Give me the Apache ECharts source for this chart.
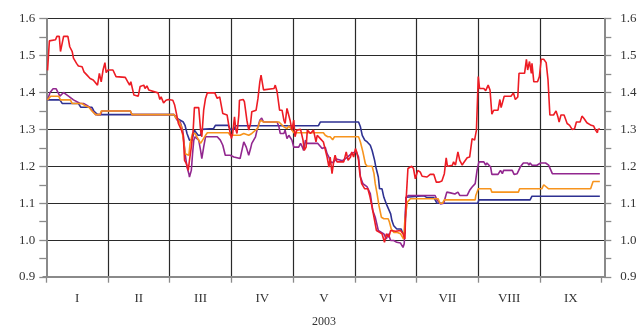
<!DOCTYPE html>
<html><head><meta charset="utf-8">
<script src="https://cdn.jsdelivr.net/npm/echarts@6/dist/echarts.min.js"></script>
<style>html,body{margin:0;padding:0;background:#fff}#c{width:638px;height:325px}</style>
</head><body><div id="c"></div>
<script>
const months = ['I','II','III','IV','V','VI','VII','VIII','IX'];
const yearLabel = '2003';
// [month position (0 = start of I), value]
const red = [[0.02,1.46],[0.05,1.54],[0.15,1.543],[0.17,1.552],[0.21,1.552],[0.23,1.511],[0.26,1.511],[0.28,1.552],[0.35,1.552],[0.38,1.524],[0.42,1.511],[0.44,1.493],[0.49,1.479],[0.52,1.472],[0.58,1.470],[0.61,1.456],[0.63,1.461],[0.66,1.447],[0.69,1.452],[0.71,1.438],[0.76,1.434],[0.79,1.429],[0.83,1.42],[0.86,1.452],[0.89,1.429],[0.92,1.461],[0.95,1.481],[0.97,1.454],[1.0,1.461],[1.08,1.461],[1.13,1.443],[1.28,1.441],[1.32,1.429],[1.35,1.42],[1.37,1.429],[1.42,1.393],[1.49,1.39],[1.52,1.416],[1.54,1.418],[1.58,1.420],[1.60,1.411],[1.63,1.418],[1.66,1.407],[1.69,1.402],[1.81,1.399],[1.84,1.381],[1.86,1.388],[1.90,1.372],[1.94,1.379],[1.98,1.381],[2.05,1.379],[2.08,1.366],[2.12,1.334],[2.14,1.316],[2.19,1.298],[2.22,1.284],[2.24,1.216],[2.27,1.207],[2.30,1.189],[2.32,1.216],[2.35,1.252],[2.38,1.298],[2.40,1.359],[2.47,1.359],[2.50,1.298],[2.52,1.280],[2.55,1.352],[2.58,1.384],[2.61,1.399],[2.73,1.399],[2.77,1.384],[2.81,1.388],[2.86,1.343],[2.93,1.339],[2.97,1.298],[3.00,1.275],[3.02,1.289],[3.05,1.334],[3.07,1.300],[3.09,1.289],[3.12,1.339],[3.13,1.379],[3.19,1.381],[3.21,1.375],[3.25,1.325],[3.28,1.298],[3.31,1.316],[3.33,1.348],[3.35,1.352],[3.40,1.352],[3.43,1.384],[3.46,1.429],[3.48,1.447],[3.49,1.452],[3.52,1.407],[3.55,1.408],[3.69,1.411],[3.71,1.420],[3.74,1.402],[3.78,1.352],[3.82,1.352],[3.85,1.325],[3.87,1.316],[3.90,1.357],[3.93,1.359],[3.95,1.325],[3.98,1.298],[4.01,1.325],[4.03,1.280],[4.06,1.298],[4.12,1.300],[4.16,1.271],[4.18,1.243],[4.21,1.252],[4.23,1.298],[4.28,1.289],[4.30,1.284],[4.33,1.298],[4.37,1.266],[4.39,1.284],[4.44,1.275],[4.47,1.280],[4.49,1.266],[4.52,1.271],[4.55,1.225],[4.58,1.198],[4.60,1.225],[4.63,1.180],[4.66,1.216],[4.68,1.230],[4.71,1.212],[4.82,1.212],[4.86,1.239],[4.89,1.216],[4.93,1.225],[4.95,1.239],[4.98,1.225],[5.01,1.248],[5.03,1.239],[5.06,1.216],[5.08,1.18],[5.11,1.153],[5.16,1.139],[5.21,1.139],[5.24,1.121],[5.28,1.089],[5.32,1.053],[5.35,1.026],[5.40,1.021],[5.44,1.017],[5.48,0.994],[5.51,1.017],[5.55,1.008],[5.58,1.026],[5.66,1.024],[5.74,1.026],[5.78,1.017],[5.81,1.003],[5.83,1.107],[5.86,1.194],[5.92,1.20],[5.95,1.194],[5.98,1.166],[6.02,1.189],[6.06,1.184],[6.09,1.173],[6.17,1.171],[6.22,1.178],[6.28,1.178],[6.32,1.157],[6.36,1.157],[6.41,1.160],[6.45,1.180],[6.48,1.223],[6.50,1.200],[6.58,1.203],[6.60,1.212],[6.63,1.203],[6.67,1.239],[6.70,1.216],[6.74,1.203],[6.76,1.209],[6.82,1.223],[6.86,1.225],[6.90,1.275],[6.93,1.280],[6.94,1.271],[6.97,1.298],[7.00,1.443],[7.02,1.411],[7.09,1.411],[7.12,1.405],[7.16,1.420],[7.19,1.407],[7.22,1.341],[7.25,1.352],[7.32,1.352],[7.35,1.381],[7.37,1.359],[7.42,1.390],[7.53,1.390],[7.57,1.399],[7.60,1.381],[7.64,1.388],[7.66,1.452],[7.75,1.452],[7.78,1.490],[7.80,1.461],[7.83,1.484],[7.86,1.452],[7.87,1.479],[7.90,1.429],[7.96,1.429],[7.99,1.443],[8.02,1.490],[8.06,1.490],[8.10,1.481],[8.13,1.434],[8.16,1.339],[8.22,1.339],[8.26,1.350],[8.29,1.334],[8.31,1.320],[8.34,1.339],[8.39,1.339],[8.44,1.316],[8.48,1.311],[8.52,1.300],[8.56,1.302],[8.59,1.320],[8.65,1.320],[8.68,1.336],[8.71,1.330],[8.76,1.318],[8.83,1.311],[8.87,1.309],[8.90,1.298],[8.93,1.291],[8.94,1.300],[8.97,1.302]];
const blue = [[0.02,1.38],[0.22,1.38],[0.26,1.37],[0.52,1.37],[0.56,1.36],[0.74,1.36],[0.77,1.35],[0.80,1.35],[0.83,1.34],[2.07,1.34],[2.12,1.33],[2.17,1.325],[2.22,1.32],[2.25,1.31],[2.28,1.289],[2.32,1.271],[2.36,1.271],[2.40,1.298],[2.43,1.302],[2.46,1.284],[2.50,1.284],[2.52,1.30],[2.71,1.302],[2.74,1.311],[2.95,1.311],[2.98,1.30],[3.04,1.30],[3.07,1.31],[4.41,1.31],[4.44,1.32],[5.06,1.32],[5.09,1.307],[5.12,1.284],[5.16,1.271],[5.20,1.266],[5.25,1.257],[5.28,1.243],[5.32,1.216],[5.34,1.198],[5.38,1.171],[5.40,1.139],[5.44,1.139],[5.47,1.116],[5.49,1.116],[5.52,1.094],[5.55,1.098],[5.58,1.071],[5.60,1.053],[5.63,1.039],[5.68,1.030],[5.75,1.030],[5.77,1.021],[5.81,1.017],[5.83,1.116],[5.86,1.12],[6.12,1.12],[6.17,1.115],[6.28,1.115],[6.33,1.10],[6.99,1.10],[7.01,1.109],[7.84,1.109],[7.87,1.119],[8.97,1.119]];
const purple = [[0.02,1.38],[0.06,1.40],[0.11,1.41],[0.16,1.41],[0.22,1.39],[0.28,1.40],[0.32,1.395],[0.36,1.39],[0.44,1.38],[0.55,1.37],[0.61,1.37],[0.66,1.365],[0.70,1.36],[0.75,1.35],[0.80,1.34],[0.88,1.34],[0.90,1.35],[1.36,1.35],[1.39,1.34],[2.07,1.34],[2.12,1.325],[2.17,1.32],[2.21,1.298],[2.25,1.234],[2.28,1.198],[2.31,1.180],[2.32,1.171],[2.35,1.189],[2.37,1.234],[2.39,1.271],[2.41,1.280],[2.44,1.279],[2.47,1.271],[2.50,1.243],[2.52,1.221],[2.55,1.252],[2.58,1.280],[2.77,1.280],[2.82,1.271],[2.86,1.257],[2.90,1.230],[2.98,1.230],[3.01,1.234],[3.04,1.225],[3.14,1.221],[3.20,1.266],[3.22,1.266],[3.24,1.252],[3.28,1.230],[3.31,1.248],[3.33,1.262],[3.36,1.262],[3.39,1.280],[3.42,1.302],[3.46,1.325],[3.49,1.331],[3.52,1.320],[3.74,1.320],[3.77,1.307],[3.79,1.289],[3.85,1.289],[3.87,1.298],[3.90,1.275],[3.93,1.284],[3.95,1.289],[3.98,1.271],[4.01,1.252],[4.09,1.252],[4.12,1.262],[4.15,1.252],[4.17,1.243],[4.20,1.271],[4.22,1.262],[4.28,1.262],[4.30,1.266],[4.33,1.262],[4.40,1.262],[4.47,1.248],[4.50,1.248],[4.52,1.252],[4.55,1.234],[4.58,1.225],[4.60,1.212],[4.65,1.21],[4.70,1.22],[4.80,1.215],[4.88,1.225],[4.95,1.235],[5.02,1.24],[5.06,1.225],[5.09,1.171],[5.13,1.153],[5.20,1.144],[5.25,1.126],[5.29,1.080],[5.33,1.062],[5.38,1.026],[5.43,1.021],[5.47,1.017],[5.51,1.003],[5.54,1.017],[5.58,0.999],[5.63,0.999],[5.68,0.994],[5.74,0.992],[5.78,0.980],[5.80,0.99],[5.83,1.116],[5.87,1.121],[6.30,1.121],[6.33,1.109],[6.39,1.098],[6.44,1.10],[6.47,1.118],[6.49,1.130],[6.55,1.128],[6.62,1.125],[6.67,1.130],[6.70,1.121],[6.82,1.121],[6.86,1.135],[6.90,1.144],[6.95,1.153],[6.98,1.189],[7.01,1.212],[7.09,1.212],[7.12,1.203],[7.14,1.209],[7.20,1.198],[7.22,1.178],[7.32,1.178],[7.36,1.189],[7.39,1.180],[7.41,1.189],[7.55,1.189],[7.58,1.178],[7.63,1.180],[7.68,1.198],[7.73,1.209],[7.80,1.209],[7.82,1.203],[7.84,1.209],[7.87,1.203],[7.95,1.203],[8.01,1.209],[8.09,1.209],[8.14,1.203],[8.17,1.198],[8.20,1.180],[8.97,1.180]];
const orange = [[0.02,1.38],[0.07,1.39],[0.20,1.39],[0.23,1.38],[0.39,1.38],[0.42,1.37],[0.58,1.37],[0.62,1.365],[0.69,1.36],[0.74,1.35],[0.80,1.34],[0.87,1.34],[0.89,1.35],[1.36,1.35],[1.39,1.34],[2.07,1.34],[2.09,1.334],[2.14,1.325],[2.19,1.307],[2.23,1.262],[2.25,1.234],[2.28,1.230],[2.31,1.230],[2.33,1.262],[2.37,1.289],[2.41,1.289],[2.44,1.280],[2.47,1.275],[2.50,1.262],[2.52,1.266],[2.58,1.284],[2.61,1.291],[2.95,1.291],[2.98,1.284],[3.14,1.284],[3.20,1.289],[3.28,1.284],[3.31,1.280],[3.33,1.289],[3.42,1.302],[3.47,1.325],[3.50,1.330],[3.52,1.320],[3.77,1.320],[3.79,1.316],[3.85,1.307],[3.87,1.311],[3.90,1.302],[3.93,1.309],[3.95,1.307],[3.98,1.298],[4.01,1.291],[4.49,1.291],[4.52,1.284],[4.56,1.280],[4.60,1.280],[4.64,1.272],[4.67,1.280],[5.06,1.280],[5.09,1.266],[5.13,1.239],[5.17,1.207],[5.20,1.200],[5.28,1.200],[5.31,1.180],[5.33,1.153],[5.36,1.126],[5.39,1.094],[5.43,1.062],[5.47,1.058],[5.54,1.058],[5.56,1.049],[5.59,1.030],[5.63,1.021],[5.68,1.021],[5.74,1.017],[5.79,1.003],[5.81,1.053],[5.85,1.103],[5.90,1.112],[6.35,1.112],[6.38,1.10],[6.42,1.10],[6.45,1.109],[6.95,1.109],[6.96,1.121],[7.00,1.139],[7.20,1.139],[7.22,1.130],[7.65,1.130],[7.67,1.139],[8.03,1.139],[8.06,1.15],[8.09,1.15],[8.14,1.139],[8.82,1.139],[8.86,1.159],[8.97,1.159]];

const serif = 'Liberation Serif';
const axisGray = '#8a8a8a';
const chart = echarts.init(document.getElementById('c'), null, {renderer:'canvas'});
function yAx(pos, margin, split){
  return {type:'value', gridIndex:0, position:pos, min:0.9, max:1.6, interval:0.1,
    axisLine:{show:true, lineStyle:{color:axisGray, width:2}},
    axisTick:{show:true, length:7, lineStyle:{color:axisGray, width:1.3}},
    minorTick:{show:true, splitNumber:2, length:7, lineStyle:{color:axisGray, width:1.3}},
    axisLabel:{margin:margin, fontFamily:serif, fontSize:13, color:'#333', formatter:v=>v.toFixed(1)},
    splitLine:{show:split, showMinLine:false, lineStyle:{color:'#2a2a2a', width:1.2}}};
}
function line(data, color){
  return {type:'line', data:data, xAxisIndex:0, yAxisIndex:0, showSymbol:false, symbol:'none',
    lineStyle:{color:color, width:1.6}, itemStyle:{color:color}, animation:false};
}
chart.setOption({
  animation:false,
  grid:[{left:43.3, right:33.7, top:18.7, bottom:48, containLabel:false, outerBoundsMode:'none'},
        {left:46.3, right:36.3, top:18.7, bottom:47.3, containLabel:false, outerBoundsMode:'none'}],
  xAxis:[
    {type:'value', gridIndex:0, min:-0.0486, max:9.042, axisLine:{show:true, onZero:false, lineStyle:{color:axisGray, width:2}},
     axisTick:{show:false}, axisLabel:{show:false}, splitLine:{show:false}},
    {type:'category', gridIndex:1, data:months, boundaryGap:true,
     axisLine:{show:false}, axisTick:{show:true, length:5, lineStyle:{color:axisGray, width:1.3}},
     axisLabel:{margin:14, fontFamily:serif, fontSize:13, color:'#333'},
     splitLine:{show:true, showMinLine:false, showMaxLine:false, lineStyle:{color:'#2a2a2a', width:1.2}},
     name:yearLabel, nameLocation:'middle', nameGap:38, nameTextStyle:{fontFamily:serif, fontSize:12, color:'#333'}}
  ],
  yAxis:[yAx('left', 8, true), yAx('right', 16, false),
    {type:'value', gridIndex:1, show:false, min:0.9, max:1.6}],
  series:[line(blue,'#2e3192'), line(purple,'#92278f'), line(orange,'#f7941d'), line(red,'#ed1c24')]
});
</script></body></html>
